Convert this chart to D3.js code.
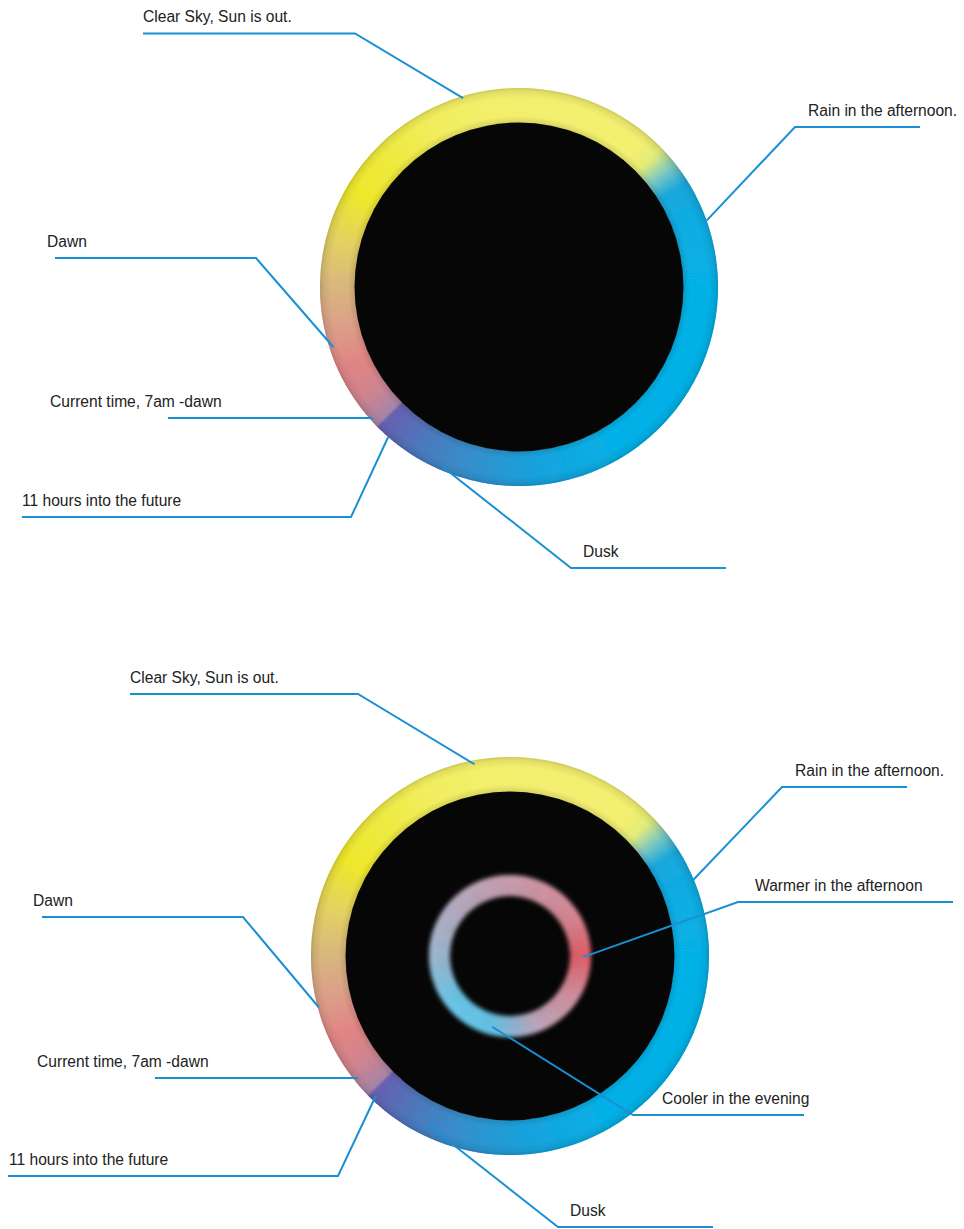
<!DOCTYPE html>
<html>
<head>
<meta charset="utf-8">
<script src="https://cdn.jsdelivr.net/npm/d3@7"></script>
<style>
  html, body { margin: 0; padding: 0; background: #fff; }
  svg { display: block; }
  text { font-family: "Liberation Sans", Arial, Helvetica, sans-serif; font-size: 15.6px; fill: #222; }
</style>
</head>
<body>
<div id="chart"></div>
<script>
// Clock position in hours (0 = 12 o'clock, clockwise) -> colour of the weather ring
const outerHours = [0, 1.33, 1.53, 1.73, 1.93, 2.33, 3, 5, 5.83, 6.5, 7.07, 7.5, 7.53, 7.83, 8.17, 8.6, 9, 9.5, 10, 10.5, 11.17, 12];
const outerColors = ["#f3ef6e", "#f3ef70", "#e4ec78", "#7cc8c0", "#1aa8dc", "#0cace2", "#06b1e6", "#06b0e6", "#18a2dc", "#3490cc", "#4c78bc", "#6860b0",
  "#a684a8", "#d0848e", "#e08484", "#dca088", "#d8b67e", "#e4d260", "#eee82a", "#eeea40", "#f2ee62", "#f3ef6e"];

// temperature ring (bottom dial only)
const innerHours = [0, 2, 3, 4, 5.3, 6.5, 7.7, 9, 10.7, 12];
const innerColors = ["#d6a8ba", "#e28e9a", "#ee6670", "#de96a6", "#c8b0c6", "#6cd0f6", "#70d2f6", "#a8c4dc", "#c4b2c8", "#d6a8ba"];

// annotations
const topNotes = ["Clear Sky, Sun is out.", "Rain in the afternoon.", "Dawn", "Current time, 7am -dawn", "11 hours into the future", "Dusk"];
const topNoteHours = [11.45, 2.35, 8.4, 7.6, 7.37, 6.78];
const bottomNotes = ["Clear Sky, Sun is out.", "Rain in the afternoon.", "Dawn", "Current time, 7am -dawn", "11 hours into the future", "Dusk",
  "Warmer in the afternoon", "Cooler in the evening"];
const bottomNoteHours = [11.65, 2.25, 8.5, 7.71, 7.46, 6.85, 3.03, 6.47];

// leader layout: text x, line y, far end x, elbow x, anchor radius
const topLayout = [
  [143, 33.5, 143, 355, 197],
  [808, 127, 920, 795, 199],
  [47, 258, 55, 256, 195],
  [50, 418, 168, 371, 197],
  [22, 517, 22, 351, 199],
  [583, 568, 726, 571, 195]
];
const bottomLayout = [
  [130, 694, 130, 358, 195],
  [795, 787, 907, 782, 198],
  [33, 917, 42, 243, 198],
  [37, 1078, 155, 358, 195],
  [9, 1176, 8, 338, 194],
  [570, 1227, 713, 558, 188],
  [755, 902, 953, 738, 73],
  [662, 1115, 804, 633, 73]
];

const width = 964;
const height = 1229;
const ringOuter = 199;
const ringInner = 164;
const tempOuter = 81;
const tempInner = 60;

const hourToAngle = d3.scaleLinear().domain([0, 12]).range([0, 2 * Math.PI]);
const outerColor = d3.scaleLinear().domain(outerHours).range(outerColors).interpolate(d3.interpolateRgb);
const innerColor = d3.scaleLinear().domain(innerHours).range(innerColors).interpolate(d3.interpolateRgb);

const svg = d3.select("#chart").append("svg")
  .attr("width", width)
  .attr("height", height);

const defs = svg.append("defs");

defs.append("filter").attr("id", "soft")
  .attr("x", "-5%").attr("y", "-5%").attr("width", "110%").attr("height", "110%")
  .append("feGaussianBlur").attr("stdDeviation", 0.6);

defs.append("filter").attr("id", "glow")
  .attr("x", "-20%").attr("y", "-20%").attr("width", "140%").attr("height", "140%")
  .append("feGaussianBlur").attr("stdDeviation", 2.0);

// shading that gives the ring its rounded look
const shade = defs.append("radialGradient").attr("id", "shade")
  .attr("gradientUnits", "userSpaceOnUse")
  .attr("cx", 0).attr("cy", 0).attr("r", ringOuter);
[[ringInner / ringOuter, 0.12], [0.86, 0.0], [0.95, 0.0], [0.985, 0.07], [1, 0.16]].forEach(([o, a]) => {
  shade.append("stop").attr("offset", o).attr("stop-color", "#000").attr("stop-opacity", a);
});

const step = 12 / 720;
const slices = d3.range(0, 12, step);

function drawRing(g, r0, r1, color, filterId) {
  const arc = d3.arc().innerRadius(r0).outerRadius(r1);
  const ring = g.append("g").attr("filter", `url(#${filterId})`);
  ring.selectAll("path")
    .data(slices)
    .enter()
    .append("path")
    .attr("d", (h) => arc({ startAngle: hourToAngle(h), endAngle: hourToAngle(h + step) + 0.004 }))
    .attr("fill", (h) => color(h + step / 2));
  return ring;
}

function drawDial(cx, cy, notes, noteHours, layout, withTemp) {
  const g = svg.append("g").attr("transform", `translate(${cx},${cy})`);

  const ring = drawRing(g, ringInner, ringOuter, outerColor, "soft");
  ring.append("path")
    .attr("d", d3.arc().innerRadius(ringInner)({ outerRadius: ringOuter, startAngle: 0, endAngle: 2 * Math.PI }))
    .attr("fill", "url(#shade)");

  g.append("circle").attr("r", ringInner + 0.5).attr("fill", "#060606");

  if (withTemp) {
    drawRing(g, tempInner, tempOuter, innerColor, "glow");
  }

  // leader lines and labels
  notes.forEach((label, i) => {
    const [tx, ly, farX, elbowX, r] = layout[i];
    const [ax, ay] = d3.pointRadial(hourToAngle(noteHours[i]), r);
    svg.append("path")
      .attr("d", d3.line()([[farX, ly], [elbowX, ly], [cx + ax, cy + ay]]))
      .attr("fill", "none")
      .attr("stroke", "#1a90d4")
      .attr("stroke-width", 2);
    svg.append("text")
      .attr("x", tx)
      .attr("y", ly - 11.5)
      .text(label);
  });
}

drawDial(519, 287, topNotes, topNoteHours, topLayout, false);
drawDial(510, 956, bottomNotes, bottomNoteHours, bottomLayout, true);
</script>
</body>
</html>
